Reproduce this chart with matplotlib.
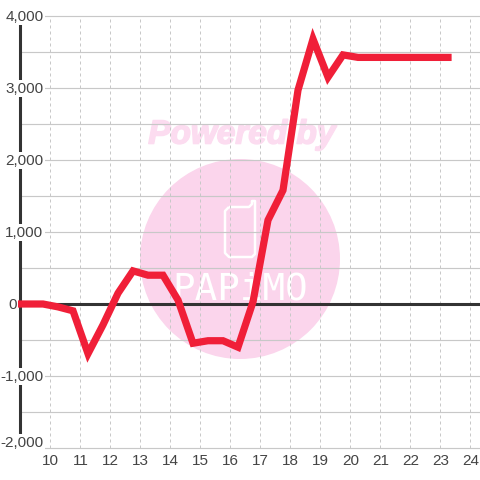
import matplotlib
matplotlib.use("Agg")
import matplotlib.pyplot as plt
import matplotlib.patheffects as pe
from matplotlib.patches import Circle, PathPatch
from matplotlib.path import Path
from matplotlib.transforms import IdentityTransform

hours = [8.75, 9.25, 9.75, 10.25, 10.75, 11.25, 11.75, 12.25, 12.75, 13.25, 13.75,
         14.25, 14.75, 15.25, 15.75, 16.25, 16.75, 17.25, 17.75, 18.25, 18.75,
         19.25, 19.75, 20.25, 20.75, 21.25, 21.75, 22.25, 22.75, 23.25]
values = [0, 0, 0, -40, -95, -690, -290, 150, 460, 400, 400,
          55, -545, -510, -510, -600, 30, 1165, 1580, 2970, 3680,
          3150, 3460, 3425, 3425, 3425, 3425, 3425, 3425, 3425]
x_ticks = list(range(10, 25))
y_ticks = list(range(-2000, 5000, 1000))
y_minor = list(range(-1500, 4000, 1000))

plt.rcParams['font.family'] = ['Liberation Sans', 'DejaVu Sans']

fig = plt.figure(figsize=(4.8, 4.8), dpi=100)
# plot box in pixels: x 18..480, y 16..448
ax = fig.add_axes([18 / 480, 32 / 480, 462 / 480, 432 / 480])
ax.set_zorder(1)
ax.patch.set_alpha(0)
ax.set_xlim(10 - 32.5 / 30, 10 + 429.5 / 30)
ax.set_ylim(-2000, 4000)

for s in ax.spines.values():
    s.set_visible(False)
ax.set_xticks(x_ticks)
ax.set_yticks(y_ticks)
ax.tick_params(axis='both', which='both', length=0, labelleft=False, labelbottom=False)

# watermark, placed in pixels, behind the axes
px = IdentityTransform()
fig.add_artist(Circle((240, 221), 100, transform=px, fc='#fbd5ec', ec='none', zorder=0))
phone = [(229, 273), (249, 273), (252, 276), (252, 279), (255, 279), (255, 226),
         (252, 223), (229, 223), (225, 227), (225, 269), (229, 273)]
fig.add_artist(PathPatch(Path(phone), transform=px, fc='none', ec='white', lw=1.8,
                         joinstyle='round', zorder=0.2))
fig.text(242 / 480, 1 - 135 / 480, 'Powered by', color='#fcdcf0', fontsize=24, fontweight='bold',
         fontstyle='italic', ha='center', va='center', zorder=0.2,
         path_effects=[pe.withStroke(linewidth=1.2, foreground='#fcdcf0')])
fig.text(240 / 480, 1 - 289 / 480, 'PAPiMO', color='white', fontsize=27, family='DejaVu Sans Mono',
         ha='center', va='center', zorder=0.2)

ax.grid(axis='x', color='#c8c8c8', lw=0.72, ls=(0, (3, 3)), zorder=1)
ax.hlines(y_ticks + y_minor, 9, ax.get_xlim()[1], color='#c8c8c8', lw=0.85, zorder=1, clip_on=False)
ax.set_axisbelow(True)

ax.axhline(0, color='#333333', lw=2.2, zorder=3)
ax.axvline(9, color='#333333', lw=2.2, zorder=3)
ax.plot(hours, values, color='#f01f38', lw=5.2, solid_joinstyle='miter', solid_capstyle='projecting', zorder=4)

for v in y_ticks:
    y = v - 12 if v > -2000 else -1925
    if v == 0:
        # the zero label sits left of the axis, with no box over the axis
        ax.annotate('0', xy=(9, y), xytext=(-2.5, 0), textcoords='offset points',
                    ha='right', va='center', fontsize=11, color='#444444', annotation_clip=False)
    else:
        ax.annotate(f'{v:,}', xy=(9, y), xytext=(16.5, 0), textcoords='offset points',
                    ha='right', va='center', fontsize=11, color='#444444', zorder=5,
                    annotation_clip=False, bbox=dict(fc='white', ec='none', pad=1))
for h in x_ticks:
    ax.annotate(str(h), xy=(h, -2000), xytext=(0, -9.6), textcoords='offset points',
                ha='center', va='center', fontsize=11, color='#444444', annotation_clip=False)

fig.savefig('out.png', dpi=100)
